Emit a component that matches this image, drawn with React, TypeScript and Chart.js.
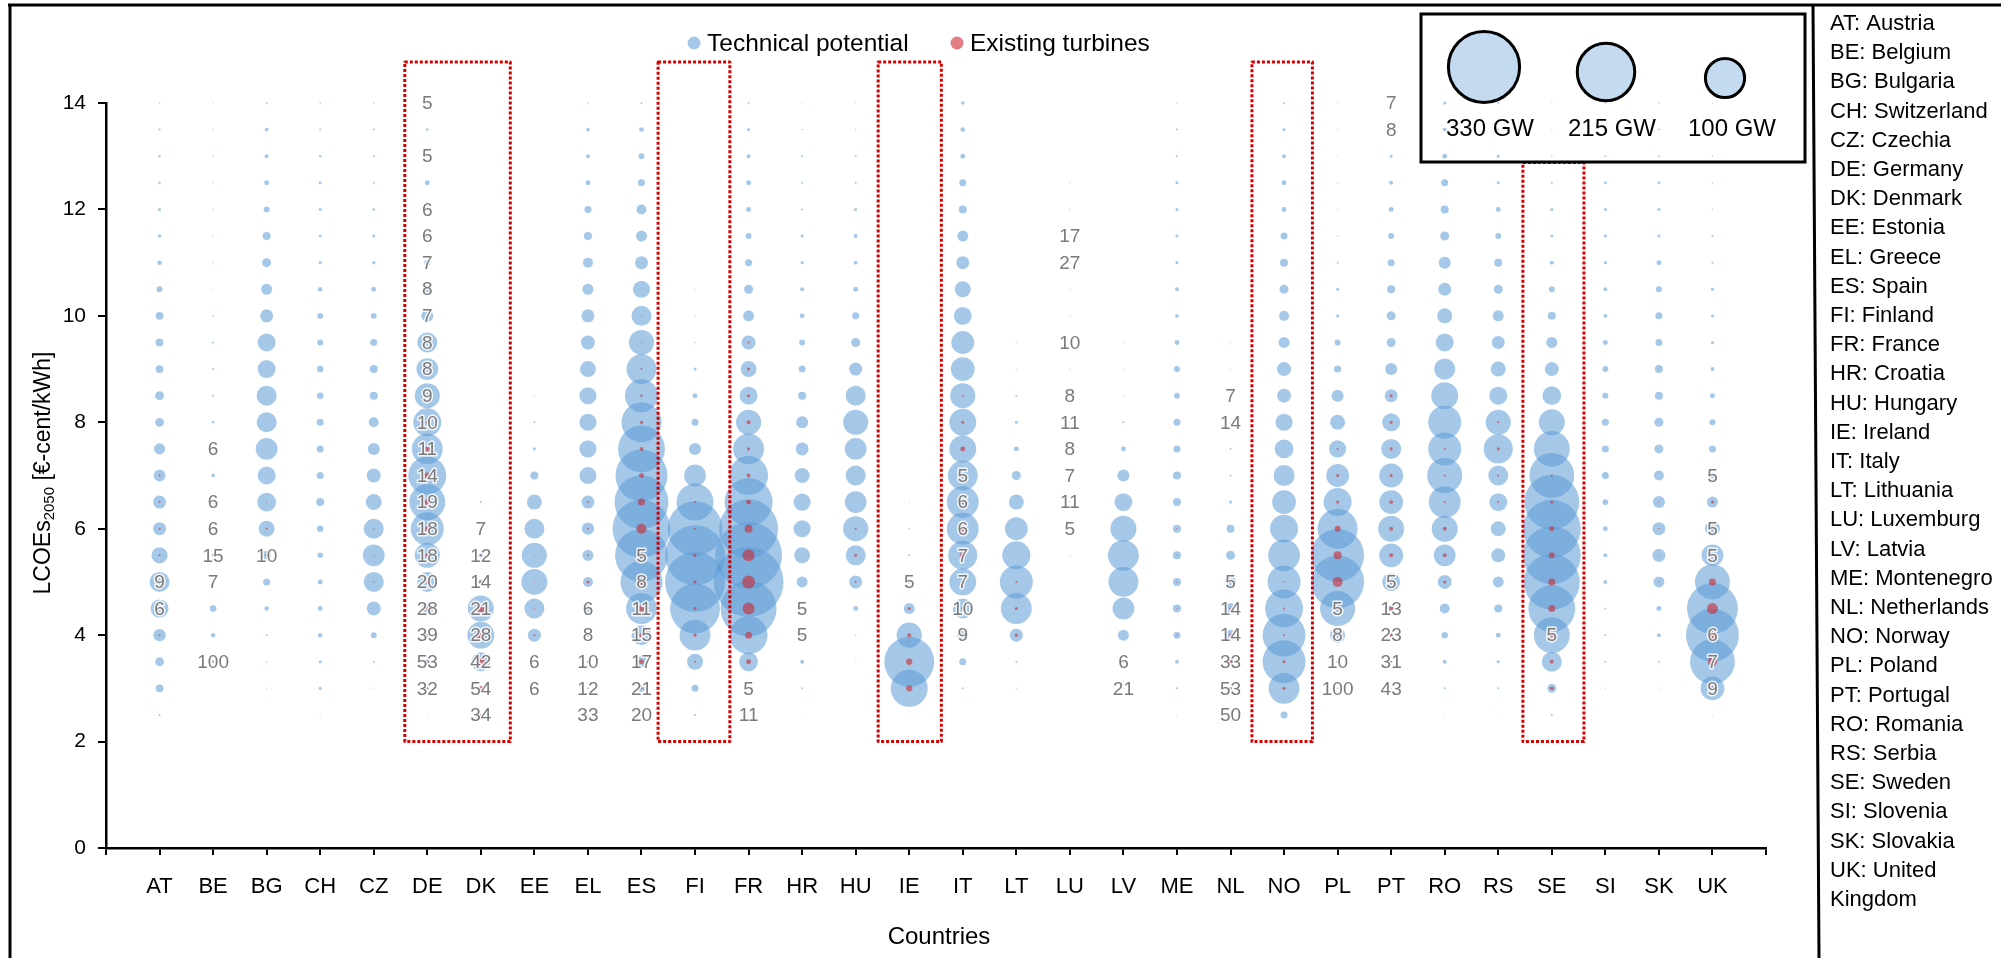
import { useEffect, useRef } from 'react';
import { Chart, registerables } from 'chart.js';

Chart.register(...registerables);

// ---------- DATA ----------
const countries = ['AT','BE','BG','CH','CZ','DE','DK','EE','EL','ES','FI','FR','HR','HU','IE','IT','LT','LU','LV','ME','NL','NO','PL','PT','RO','RS','SE','SI','SK','UK'];
const countryNames = ['AT: Austria','BE: Belgium','BG: Bulgaria','CH: Switzerland','CZ: Czechia','DE: Germany','DK: Denmark','EE: Estonia','EL: Greece','ES: Spain','FI: Finland','FR: France','HR: Croatia','HU: Hungary','IE: Ireland','IT: Italy','LT: Lithuania','LU: Luxemburg','LV: Latvia','ME: Montenegro','NL: Netherlands','NO: Norway','PL: Poland','PT: Portugal','RO: Romania','RS: Serbia','SE: Sweden','SI: Slovenia','SK: Slovakia','UK: United','Kingdom'];

// LCOE bins (€-cent/kWh)
const levels = [2.5,3,3.5,4,4.5,5,5.5,6,6.5,7,7.5,8,8.5,9,9.5,10,10.5,11,11.5,12,12.5,13,13.5,14];
const yTicks = [0,2,4,6,8,10,12,14];

// Technical potential (GW) per bin, bins as in `levels`
const potAT = [0.3,4,5,10,21,26,17,11,11,9,8,5,5,4,4,4,2.3,1.3,0.8,0.6,0.4,0.4,0.3,0.15];
const potBE = [0,0,0.2,1.3,2.8,0.5,0.5,0.3,0.3,0.8,0.3,0.4,0.3,0.3,0.3,0.2,0.1,0.1,0.1,0.1,0.1,0.1,0.1,0.1];
const potBG = [0,0.07,0.15,0.26,1.3,3.2,5.3,16.6,23,21,31,26,26,21,21,11,7.9,5.3,4.2,2.3,1.6,1,1,0.26];
const potCH = [0.07,0.6,0.6,1.3,1.6,1.6,2,2.7,4.2,3.2,3.2,3.2,2.7,2.7,2.3,2.3,1.3,0.6,0.6,0.6,0.6,0.4,0.26,0.15];
const potCZ = [0,0.07,0.26,2.3,12.7,26,31,26,16.6,12.7,9.4,6.5,4.2,4.2,3.2,2.3,1.6,0.8,0.6,0.4,0.26,0.26,0.26,0.15];
const potDE = [0.07,0.6,1.6,2.3,9.4,26,41,71,84,94,62,51,41,31,26,9.4,3.2,2.3,1,0.6,1.6,0.3,0.4,0.2];
const potDK = [0.26,1,23,47,44,1.6,1,0.26,0.26,0,0,0,0,0,0,0,0,0,0,0,0,0,0,0];
const potEE = [0,0.07,0.07,11,26,44,41,26,14.6,4.2,0.6,0.26,0.1,0,0,0,0,0,0,0,0,0,0,0];
const potEL = [0.07,0.26,0.6,1,3.2,6.5,7.9,10,11,19,19,19,19,16.6,12.7,11,7.9,6.5,4.2,3.2,1.6,1,1,0.15];
const potES = [0.26,3.2,7.9,26,62,115,182,218,189,176,143,104,71,58,41,26,19,11,7.9,6.5,3.2,2.3,1.6,0.26];
const potFI = [0.26,3.2,16.6,62,162,234,234,196,89,31,9.4,3.2,1.6,0.6,0.15,0.07,0.07,0,0,0,0,0,0,0];
const potFR = [0.07,0.6,23,94,204,318,291,226,150,99,62,41,21,16.6,12.7,7.9,5.3,3.2,2.3,1.6,1.6,1,0.6,0.26];
const potHR = [0.07,0.26,1,0.6,0.6,7.9,16.6,19,19,14.6,11,9.4,4.2,3.2,2.3,1.6,1,0.6,0.6,0.26,0.26,0.26,0.15,0.07];
const potHU = [0,0,0.07,0.15,1.6,11,26,41,31,26,31,41,26,11,5.3,3.2,1.6,1,1,0.6,0.26,0.26,0.15,0.07];
const potIE = [0.07,89,162,41,7.9,0.6,0.26,0.15,0.07,0,0,0,0,0,0,0,0,0,0,0,0,0,0,0];
const potIT = [0,0.26,3.2,7.9,26,47,55,66,66,58,47,47,41,37,34,21,16.6,11,7.9,4.2,3.2,1.6,1.3,0.8];
const potLT = [0,0.07,0.26,11,62,71,51,34,14.6,5.3,1.6,0.6,0.26,0.07,0.07,0,0,0,0,0,0,0,0,0];
const potLU = [0,0,0,0,0,0,0.1,0.1,0.1,0.1,0.1,0.1,0.1,0.1,0.1,0.1,0.1,0.1,0.1,0.1,0.1,0,0,0];
const potLV = [0,0.07,0.15,7.9,31,58,62,44,21,9.4,1.6,0.26,0.07,0.07,0.07,0,0,0,0,0,0,0,0,0];
const potME = [0.07,0.26,1,3.2,4.2,4.2,4.2,4.2,4.2,4.2,3.2,3.2,2.3,2.3,1.6,1,1,0.6,0.6,0.6,0.6,0.26,0.26,0.15];
const potNL = [0.07,0.6,2.3,7.9,7.9,7.9,5.3,4.2,0.6,0.26,0.26,0.07,0.07,0.07,0.07,0,0,0,0,0,0,0,0,0];
const potNO = [3.2,62,120,120,94,71,66,51,37,29,23,19,12.7,12.7,7.9,6.5,5.3,4.2,3.2,1.6,1.6,1,0.6,0.26];
const potPL = [0,0.26,0.6,14.6,80,182,182,104,51,34,19,14.6,9.4,3.2,2.3,0.6,0.6,0.26,0.15,0.15,0.15,0.07,0.07,0.07];
const potPT = [0,0.07,0.26,0.6,2.3,21,37,44,37,37,26,21,11,9.4,5.3,5.3,4.2,3.2,2.3,1.6,1,0.6,0.07,0.07];
const potRO = [0.07,0.26,1,2.7,6.5,12.7,31,44,66,80,71,71,47,29,21,14.6,11,9.4,5.3,4.2,3.2,1.6,1,0.6];
const potRS = [0.07,0.26,0.6,1.6,4.2,7.9,12.7,14.6,21,26,55,41,21,14.6,11,7.9,5.3,4.2,2.3,1.6,0.6,0.6,0.26,0.26];
const potSE = [0.26,5.3,26,84,143,204,218,218,196,131,84,44,23,12.7,7.9,4.2,2.3,1,0.6,0.6,0.26,0.15,0.07,0.07];
const potSI = [0,0.07,0.26,0.26,0.26,1,1,1.6,2.3,3.2,3.2,3.2,2.3,2.3,1.6,1,1,0.6,0.6,0.6,0.6,0.26,0.26,0.15];
const potSK = [0,0.07,0.26,1,1.6,7.9,11,11,9.4,6.5,5.3,5.3,4.2,4.2,3.2,3.2,2.3,1.6,0.6,0.6,0.6,0.26,0.26,0.15];
const potUK = [0.07,37,131,182,169,80,31,14.6,7.9,2.3,3.2,2.3,1.6,1,0.6,0.6,0.6,0.26,0.26,0.15,0.15,0.15,0.07,0.07];

// Existing turbines (GW) per bin
const exAT = [0,0,0,0.26,0.6,1,0.26,0.26,0.26,0.26,0,0,0,0,0,0,0,0,0,0,0,0,0,0];
const exBE = [0,0,0.2,0,0,0.1,0.26,0,0,0,0,0,0,0,0,0,0,0,0,0,0,0,0,0];
const exBG = [0,0,0,0,0,0,0.6,0.26,0.1,0,0,0,0,0,0,0,0,0,0,0,0,0,0,0];
const exCH = [0,0,0,0,0,0,0,0,0,0,0,0,0,0,0,0,0,0,0,0,0,0,0,0];
const exCZ = [0,0,0,0,0,0.1,0.1,0.1,0,0,0,0,0,0,0,0,0,0,0,0,0,0,0,0];
const exDE = [0,0.26,0.6,0.6,1,1,1,1.6,2.3,2.3,1.6,0.6,0.4,0.26,0.26,0.15,0.07,0.07,0,0,0,0,0,0];
const exDK = [0.26,1.6,4.2,6.5,4.2,0.6,0.26,0,0,0,0,0,0,0,0,0,0,0,0,0,0,0,0,0];
const exEE = [0,0,0,0.26,0.07,0.07,0.07,0,0,0,0,0,0,0,0,0,0,0,0,0,0,0,0,0];
const exEL = [0,0,0.26,0.26,0.26,0.6,0.26,0.26,0.26,0,0,0,0,0,0,0,0,0,0,0,0,0,0,0];
const exES = [0,0.26,1.6,1,2.3,2.3,2.3,6.5,3.2,1.6,1,0.7,0.4,0.26,0.1,0.07,0,0,0,0,0,0,0,0];
const exFI = [0,0,0.26,0.6,0.6,0.6,0.6,0.26,0.26,0,0,0,0,0,0,0,0,0,0,0,0,0,0,0];
const exFR = [0,0,1.6,3.2,9.4,11,9.4,4.2,1.6,1,0.6,1,0.6,0.6,0.26,0,0,0,0,0,0,0,0,0];
const exHR = [0,0,0,0,0,0,0,0,0,0,0,0,0,0,0,0,0,0,0,0,0,0,0,0];
const exHU = [0,0,0,0,0,0.26,0.6,0.26,0,0,0,0,0,0,0,0,0,0,0,0,0,0,0,0];
const exIE = [0,2.6,2.6,1,0.6,0,0,0,0,0,0,0,0,0,0,0,0,0,0,0,0,0,0,0];
const exIT = [0,0,0,0.26,0.6,1,2.3,1.6,1,0.6,1.6,0.6,0.26,0,0,0,0,0,0,0,0,0,0,0];
const exLT = [0,0,0,0.6,0.6,0.26,0,0,0,0,0,0,0,0,0,0,0,0,0,0,0,0,0,0];
const exLU = [0,0,0,0,0,0,0,0,0,0,0,0,0,0,0,0,0,0,0,0,0,0,0,0];
const exLV = [0,0,0,0,0,0,0,0,0,0,0,0,0,0,0,0,0,0,0,0,0,0,0,0];
const exME = [0,0,0,0.1,0.1,0.1,0.1,0.1,0,0,0,0,0,0,0,0,0,0,0,0,0,0,0,0];
const exNL = [0,0.26,1,0.6,0.26,0.26,0,0,0,0,0,0,0,0,0,0,0,0,0,0,0,0,0,0];
const exNO = [0,0.6,0.6,0.26,0.26,0.15,0,0,0,0,0,0,0,0,0,0,0,0,0,0,0,0,0,0];
const exPL = [0,0,0,0.26,1,6.5,4.2,2.3,0.6,0.6,0.26,0,0,0,0,0,0,0,0,0,0,0,0,0];
const exPT = [0,0,0.26,0.6,1,0.6,1,1,1,0.6,0.6,0.6,0.6,0,0,0,0,0,0,0,0,0,0,0];
const exRO = [0,0,0,0,0,0.6,1,1,0.26,0.26,0.26,0,0,0,0,0,0,0,0,0,0,0,0,0];
const exRS = [0,0,0,0,0,0,0,0,0.26,0.26,0.6,0.26,0,0,0,0,0,0,0,0,0,0,0,0];
const exSE = [0,1,1,1,3.2,3.2,2.3,1.6,0.6,0.26,0,0,0,0,0,0,0,0,0,0,0,0,0,0];
const exSI = [0,0,0,0,0,0,0,0,0,0,0,0,0,0,0,0,0,0,0,0,0,0,0,0];
const exSK = [0,0,0,0,0,0.1,0.1,0.1,0.1,0,0,0,0,0,0,0,0,0,0,0,0,0,0,0];
const exUK = [0,1,5.3,5.3,7.9,3.2,0.6,0.6,0.6,0,0,0,0,0,0,0,0,0,0,0,0,0,0,0];

const potential = [potAT,potBE,potBG,potCH,potCZ,potDE,potDK,potEE,potEL,potES,potFI,potFR,potHR,potHU,potIE,potIT,potLT,potLU,potLV,potME,potNL,potNO,potPL,potPT,potRO,potRS,potSE,potSI,potSK,potUK];
const existing = [exAT,exBE,exBG,exCH,exCZ,exDE,exDK,exEE,exEL,exES,exFI,exFR,exHR,exHU,exIE,exIT,exLT,exLU,exLV,exME,exNL,exNO,exPL,exPT,exRO,exRS,exSE,exSI,exSK,exUK];

// Number labels written in the bins: [country, LCOE, text]
const valueLabels: [string, number, string][] = [
  ['AT',5,'9'],['AT',4.5,'6'],
  ['BE',7.5,'6'],['BE',6.5,'6'],['BE',6,'6'],['BE',5.5,'15'],['BE',5,'7'],['BE',3.5,'100'],
  ['BG',5.5,'10'],
  ['DE',14,'5'],['DE',13,'5'],['DE',12,'6'],['DE',11.5,'6'],['DE',11,'7'],['DE',10.5,'8'],['DE',10,'7'],['DE',9.5,'8'],['DE',9,'8'],['DE',8.5,'9'],['DE',8,'10'],['DE',7.5,'11'],['DE',7,'14'],['DE',6.5,'19'],['DE',6,'18'],['DE',5.5,'18'],['DE',5,'20'],['DE',4.5,'28'],['DE',4,'39'],['DE',3.5,'53'],['DE',3,'32'],
  ['DK',6,'7'],['DK',5.5,'12'],['DK',5,'14'],['DK',4.5,'21'],['DK',4,'28'],['DK',3.5,'42'],['DK',3,'54'],['DK',2.5,'34'],
  ['EE',3.5,'6'],['EE',3,'6'],
  ['EL',4.5,'6'],['EL',4,'8'],['EL',3.5,'10'],['EL',3,'12'],['EL',2.5,'33'],
  ['ES',5.5,'5'],['ES',5,'8'],['ES',4.5,'11'],['ES',4,'15'],['ES',3.5,'17'],['ES',3,'21'],['ES',2.5,'20'],
  ['FR',3,'5'],['FR',2.5,'11'],
  ['HR',4.5,'5'],['HR',4,'5'],
  ['IE',5,'5'],
  ['IT',7,'5'],['IT',6.5,'6'],['IT',6,'6'],['IT',5.5,'7'],['IT',5,'7'],['IT',4.5,'10'],['IT',4,'9'],
  ['LU',11.5,'17'],['LU',11,'27'],['LU',9.5,'10'],['LU',8.5,'8'],['LU',8,'11'],['LU',7.5,'8'],['LU',7,'7'],['LU',6.5,'11'],['LU',6,'5'],
  ['LV',3.5,'6'],['LV',3,'21'],
  ['NL',8.5,'7'],['NL',8,'14'],['NL',5,'5'],['NL',4.5,'14'],['NL',4,'14'],['NL',3.5,'33'],['NL',3,'53'],['NL',2.5,'50'],
  ['PL',4.5,'5'],['PL',4,'8'],['PL',3.5,'10'],['PL',3,'100'],
  ['PT',14,'7'],['PT',13.5,'8'],['PT',5,'5'],['PT',4.5,'13'],['PT',4,'23'],['PT',3.5,'31'],['PT',3,'43'],
  ['SE',4,'5'],
  ['UK',7,'5'],['UK',6,'5'],['UK',5.5,'5'],['UK',4,'6'],['UK',3.5,'7'],['UK',3,'9'],
];

// Highlighted groups (dotted boxes): [x from, x to, y from, y to] in axis units
const boxDE_DK = [4.58, 6.55, 2, 14.77];
const boxFI = [9.31, 10.65, 2, 14.77];
const boxIE = [13.42, 14.6, 2, 14.77];
const boxNO = [20.4, 21.53, 2, 14.77];
const boxSE = [25.46, 26.6, 2, 12.88];
const highlightBoxes = [boxDE_DK, boxFI, boxIE, boxNO, boxSE];

const sizeLegendGW = [330, 215, 100];

// ---------- STYLE ----------
const FONT = '"Liberation Sans", Arial, Helvetica, sans-serif';
const R_PER_SQRT_GW = 1.96;
const BLUE = 'rgba(91,155,213,0.55)';
const RED = 'rgba(205,40,50,0.6)';

function bubblePoints(series: number[][]) {
  const pts: { x: number; y: number; r: number }[] = [];
  series.forEach((arr, ci) => {
    arr.forEach((gw, li) => {
      if (gw > 0) pts.push({ x: ci, y: levels[li], r: R_PER_SQRT_GW * Math.sqrt(gw) });
    });
  });
  return pts;
}

const overlayPlugin = {
  id: 'overlay',
  afterDatasetsDraw(chart: any) {
    const { ctx } = chart;
    const xs = chart.scales.x;
    const ys = chart.scales.y;
    ctx.save();
    // value labels
    ctx.font = `19px ${FONT}`;
    ctx.textAlign = 'center';
    ctx.textBaseline = 'middle';
    ctx.lineJoin = 'round';
    for (const [c, lv, t] of valueLabels) {
      const px = xs.getPixelForValue(countries.indexOf(c));
      const py = ys.getPixelForValue(lv) + 1;
      ctx.strokeStyle = 'rgba(255,255,255,0.85)';
      ctx.lineWidth = 3;
      ctx.strokeText(t, px, py);
      ctx.fillStyle = '#7a7a7a';
      ctx.fillText(t, px, py);
    }
    // dotted boxes
    ctx.strokeStyle = '#d40000';
    ctx.lineWidth = 3;
    ctx.setLineDash([3, 2]);
    for (const b of highlightBoxes) {
      const x0 = xs.getPixelForValue(b[0]);
      const x1 = xs.getPixelForValue(b[1]);
      const y0 = ys.getPixelForValue(b[2]);
      const y1 = ys.getPixelForValue(b[3]);
      ctx.strokeRect(x0, y1, x1 - x0, y0 - y1);
    }
    ctx.restore();
  },
  afterDraw(chart: any) {
    const { ctx } = chart;
    ctx.save();
    // frame lines
    ctx.strokeStyle = '#000';
    ctx.lineWidth = 3;
    ctx.beginPath();
    ctx.moveTo(8, 5); ctx.lineTo(2001, 5);
    ctx.moveTo(10, 5); ctx.lineTo(10, 958);
    ctx.moveTo(1813, 5); ctx.lineTo(1819, 958);
    ctx.stroke();

    // top legend
    ctx.textBaseline = 'middle';
    ctx.textAlign = 'left';
    ctx.font = `24.5px ${FONT}`;
    ctx.fillStyle = BLUE;
    ctx.beginPath(); ctx.arc(694, 43, 6.5, 0, Math.PI * 2); ctx.fill();
    ctx.fillStyle = '#000';
    ctx.fillText('Technical potential', 707, 44);
    ctx.fillStyle = RED;
    ctx.beginPath(); ctx.arc(957, 43, 6.5, 0, Math.PI * 2); ctx.fill();
    ctx.fillStyle = '#000';
    ctx.fillText('Existing turbines', 970, 44);

    // size legend
    ctx.lineWidth = 3;
    ctx.strokeRect(1421, 14, 384, 148);
    const cx = [1484, 1606, 1725];
    const cy = [67, 72, 78];
    const lx = [1490, 1612, 1732];
    sizeLegendGW.forEach((gw, i) => {
      const r = R_PER_SQRT_GW * Math.sqrt(gw);
      ctx.beginPath();
      ctx.arc(cx[i], cy[i], r, 0, Math.PI * 2);
      ctx.fillStyle = '#c3daf0';
      ctx.fill();
      ctx.strokeStyle = '#000';
      ctx.lineWidth = 3;
      ctx.stroke();
      ctx.fillStyle = '#000';
      ctx.textAlign = 'center';
      ctx.font = `24px ${FONT}`;
      ctx.fillText(`${gw} GW`, lx[i], 129);
    });

    // x title
    ctx.font = `24px ${FONT}`;
    ctx.textAlign = 'center';
    ctx.fillStyle = '#000';
    ctx.fillText('Countries', 939, 937);

    // y title with subscript
    ctx.save();
    ctx.translate(44, 473);
    ctx.rotate(-Math.PI / 2);
    const big = `23px ${FONT}`;
    const small = `15px ${FONT}`;
    ctx.font = big; const w1 = ctx.measureText('LCOEs').width;
    ctx.font = small; const w2 = ctx.measureText('2050').width;
    ctx.font = big; const w3 = ctx.measureText(' [€-cent/kWh]').width;
    let sx = -(w1 + w2 + w3) / 2;
    ctx.textAlign = 'left';
    ctx.textBaseline = 'middle';
    ctx.font = big; ctx.fillText('LCOEs', sx, 0); sx += w1;
    ctx.font = small; ctx.fillText('2050', sx, 6); sx += w2;
    ctx.font = big; ctx.fillText(' [€-cent/kWh]', sx, 0);
    ctx.restore();

    // country list
    ctx.font = `22px ${FONT}`;
    ctx.textAlign = 'left';
    ctx.textBaseline = 'middle';
    ctx.fillStyle = '#000';
    countryNames.forEach((t, i) => ctx.fillText(t, 1830, 24 + i * 29.2));
    ctx.restore();
  },
};

export default function App() {
  const ref = useRef<HTMLCanvasElement>(null);
  useEffect(() => {
    if (!ref.current) return;
    const chart = new Chart(ref.current, {
      type: 'bubble',
      data: {
        datasets: [
          { label: 'Technical potential', data: bubblePoints(potential), backgroundColor: BLUE, borderWidth: 0, order: 1, clip: false } as any,
          { label: 'Existing turbines', data: bubblePoints(existing), backgroundColor: RED, borderWidth: 0, order: 0, clip: false } as any,
        ],
      },
      options: {
        responsive: false,
        devicePixelRatio: 1,
        animation: false,
        events: [],
        layout: { padding: { left: 0, right: 235, top: 103, bottom: 0 } },
        plugins: { legend: { display: false }, tooltip: { enabled: false }, title: { display: false } },
        scales: {
          x: {
            type: 'linear',
            min: -1,
            max: 30,
            afterFit: (s: any) => { s.height = 110; },
            afterBuildTicks: (s: any) => { s.ticks = Array.from({ length: 32 }, (_, i) => ({ value: i - 1 })); },
            ticks: {
              stepSize: 1,
              autoSkip: false,
              maxRotation: 0,
              padding: 19,
              color: '#000',
              font: { family: FONT, size: 22 },
              callback: (v: any) => (v >= 0 && v < countries.length ? countries[v] : ''),
            },
            grid: { drawOnChartArea: false, drawTicks: true, tickLength: 7, color: '#000', lineWidth: 2 },
            border: { display: true, color: '#000', width: 2.5 },
          },
          y: {
            type: 'linear',
            min: 0,
            max: 14,
            afterFit: (s: any) => { s.width = 106; },
            afterBuildTicks: (s: any) => { s.ticks = yTicks.map((v) => ({ value: v })); },
            ticks: { stepSize: 2, padding: 12, color: '#000', font: { family: FONT, size: 21 } },
            grid: { drawOnChartArea: false, drawTicks: true, tickLength: 8, color: '#000', lineWidth: 2 },
            border: { display: true, color: '#000', width: 2.5 },
          },
        },
      },
      plugins: [overlayPlugin],
    });
    return () => chart.destroy();
  }, []);
  return (
    <div style={{ position: 'fixed', left: 0, top: 0, width: 2001, height: 958, background: '#fff' }}>
      <canvas ref={ref} width={2001} height={958} style={{ width: 2001, height: 958, display: 'block' }} />
    </div>
  );
}
